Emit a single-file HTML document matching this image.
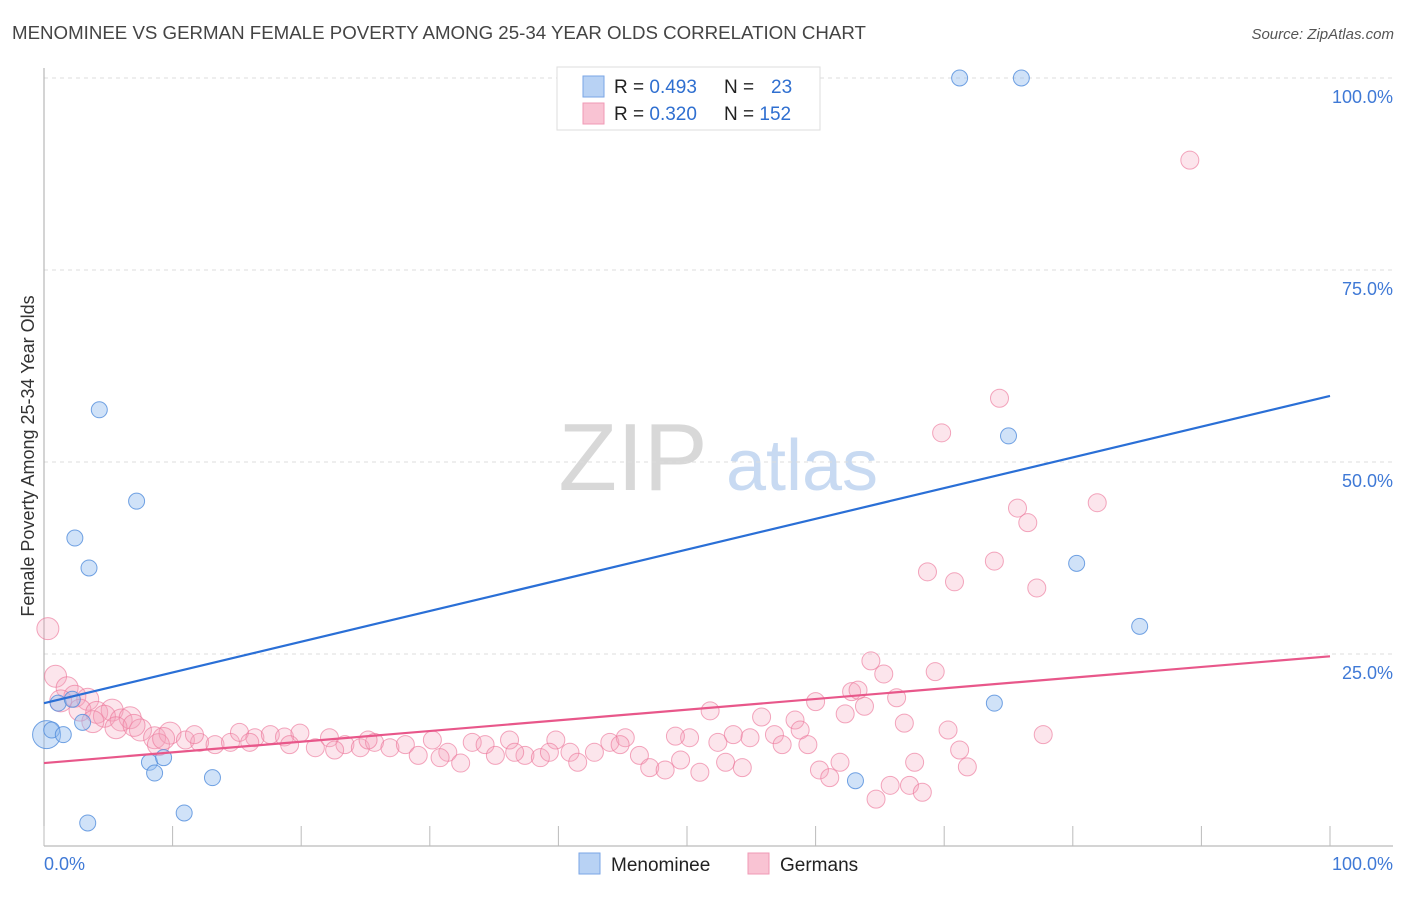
<!DOCTYPE html>
<html><head><meta charset="utf-8"><style>
body{margin:0;background:#fff;font-family:"Liberation Sans",sans-serif}
svg text{font-family:"Liberation Sans",sans-serif}
</style></head><body>
<svg id="chart" width="1406" height="892" viewBox="0 0 1406 892">
<text x="12" y="39" font-size="18.7" fill="#444">MENOMINEE VS GERMAN FEMALE POVERTY AMONG 25-34 YEAR OLDS CORRELATION CHART</text>
<text x="1394" y="39" font-size="15" fill="#555" text-anchor="end" font-style="italic">Source: ZipAtlas.com</text>
<g>
<text x="633" y="490" font-size="96" fill="#d8d8d8" font-family="Liberation Serif" text-anchor="middle">ZIP</text>
<text x="802" y="490" font-size="72" fill="#c8daf2" text-anchor="middle">atlas</text>
</g>
<g id="grid"></g><g id="axes"></g><g id="pts"></g><g id="lines"></g>
<g>
<rect x="557" y="67" width="263" height="63" fill="#fff" stroke="#ddd"/>
<rect x="583" y="76" width="21" height="21" fill="#b8d2f4" stroke="#7aa6e6"/>
<rect x="583" y="103" width="21" height="21" fill="#f9c3d3" stroke="#f09ab6"/>
<text x="614" y="93" font-size="19" fill="#222">R = <tspan fill="#2f6fd0">0.493</tspan></text>
<text x="724" y="93" font-size="19" fill="#222">N = <tspan fill="#2f6fd0" x="771">23</tspan></text>
<text x="614" y="120" font-size="19" fill="#222">R = <tspan fill="#2f6fd0">0.320</tspan></text>
<text x="724" y="120" font-size="19" fill="#222">N = <tspan fill="#2f6fd0">152</tspan></text>
</g>
<g>
<rect x="579" y="853" width="21" height="21" fill="#b8d2f4" stroke="#7aa6e6"/>
<text x="611" y="871" font-size="19" fill="#222">Menominee</text>
<rect x="748" y="853" width="21" height="21" fill="#f9c3d3" stroke="#f09ab6"/>
<text x="780" y="871" font-size="19" fill="#222">Germans</text>
</g>
<text transform="translate(34,456) rotate(-90)" font-size="18" fill="#333" text-anchor="middle">Female Poverty Among 25-34 Year Olds</text>
</svg>
<script>
const yTicks=[25,50,75,100];
const yTickLabels=["25.0%","50.0%","75.0%","100.0%"];
const xTicks=[0,10,20,30,40,50,60,70,80,90,100];
const menX=[0.2,0.6,1.1,1.5,2.2,3.0,2.4,3.5,4.3,7.2,3.4,8.2,8.6,9.3,10.9,13.1,71.2,76.0,75.0,80.3,85.2,73.9,63.1];
const menY=[14.5,15.1,18.6,14.5,19.1,16.1,40.1,36.2,56.8,44.9,3.0,10.9,9.5,11.5,4.3,8.9,100,100,53.4,36.8,28.6,18.6,8.5];
const gerX=[0.3,0.9,1.8,2.4,3.4,2.8,4.1,5.3,4.7,6.0,6.7,7.5,8.6,9.8,11,12.1,13.3,14.5,15.2,16.4,17.6,18.7,19.9,21.1,22.2,23.4,24.6,25.7,26.9,28.1,29.1,30.2,31.4,32.4,33.3,34.3,35.1,36.2,37.4,38.6,39.8,40.9,41.5,42.8,44.0,45.2,46.3,47.1,48.3,49.5,50.2,51.0,51.8,52.4,53.0,54.3,54.9,55.8,56.8,57.4,58.4,58.8,59.4,60.0,60.3,61.1,61.9,62.3,62.8,63.3,63.8,64.3,64.7,65.3,65.8,66.3,66.9,67.3,67.7,68.3,68.7,69.3,69.8,70.3,70.8,71.2,71.8,73.9,74.3,75.7,76.5,77.2,77.7,81.9,89.1,8.9,11.7,16.0,19.1,22.6,25.2,30.8,36.6,39.3,44.8,53.6,49.1,1.3,3.8,5.6,7.0,9.3];
const gerY=[28.3,22.1,20.6,19.5,19.1,17.7,17.4,17.7,16.9,16.4,16.7,15.1,14.1,14.7,13.8,13.5,13.2,13.5,14.8,14.1,14.5,14.2,14.7,12.8,14.1,13.2,12.8,13.5,12.8,13.2,11.8,13.8,12.2,10.8,13.5,13.2,11.8,13.8,11.8,11.5,13.8,12.2,10.9,12.2,13.5,14.1,11.8,10.2,9.9,11.2,14.1,9.6,17.6,13.5,10.9,10.2,14.1,16.8,14.5,13.2,16.4,15.1,13.2,18.8,9.9,8.9,10.9,17.2,20.1,20.3,18.2,24.1,6.1,22.4,7.9,19.3,16.0,7.9,10.9,7.0,35.7,22.7,53.8,15.1,34.4,12.5,10.3,37.1,58.3,44.0,42.1,33.6,14.5,44.7,89.3,13.2,14.5,13.5,13.2,12.5,13.8,11.5,12.2,12.2,13.2,14.5,14.3,18.9,16.2,15.4,15.7,14.0];
const blueLine=[18.6,58.6];
const pinkLine=[10.8,24.7];
const X0=44,X1=1330,Y0=846,Y100=78;
const sx=v=>X0+(X1-X0)*v/100, sy=v=>Y0-(Y0-Y100)*v/100;
const NS="http://www.w3.org/2000/svg";
function mk(p,t,a){const e=document.createElementNS(NS,t);for(const k in a)e.setAttribute(k,a[k]);p.appendChild(e);return e;}
const grid=document.getElementById('grid'),axes=document.getElementById('axes'),pts=document.getElementById('pts'),lines=document.getElementById('lines');
yTicks.forEach((t,i)=>{
 const l=mk(grid,'line',{x1:X0,x2:1393,y1:sy(t),y2:sy(t),stroke:'#ddd','stroke-dasharray':'4,4'});
 
 
 const tx=mk(grid,'text',{x:1393,y:sy(t)+25,'font-size':18,fill:'#3f79d6','text-anchor':'end'});
 tx.textContent=yTickLabels[i];
 
 
});
let a=mk(axes,'line',{x1:X0,x2:X0,y1:68,y2:Y0,stroke:'#aaa'});


a=mk(axes,'line',{x1:X0,x2:1393,y1:Y0,y2:Y0,stroke:'#aaa'});


xTicks.forEach(t=>{
 const l=mk(axes,'line',{x1:sx(t),x2:sx(t),y1:826,y2:Y0,stroke:'#bbb'});
 
 
});
let t=mk(axes,'text',{x:44,y:870,'font-size':18,fill:'#3f79d6'});t.textContent='0.0%';


t=mk(axes,'text',{x:1393,y:870,'font-size':18,fill:'#3f79d6','text-anchor':'end'});t.textContent='100.0%';


gerX.forEach((x,i)=>{
 const r=x<10?11:9;
 const c=mk(pts,'circle',{cx:sx(x),cy:sy(gerY[i]),r:r,fill:'rgba(245,160,185,0.28)',stroke:'rgba(236,120,155,0.65)','stroke-width':1});
 
 
});
menX.forEach((x,i)=>{
 const r=i==0?14:8;
 const c=mk(pts,'circle',{cx:sx(x),cy:sy(menY[i]),r:r,fill:'rgba(150,190,240,0.45)',stroke:'rgba(80,140,220,0.8)','stroke-width':1});
 
 
});
let ln=mk(lines,'line',{x1:sx(0),x2:sx(100),y1:sy(blueLine[0]),y2:sy(blueLine[1]),stroke:'#2a6fd6','stroke-width':2.2});


ln=mk(lines,'line',{x1:sx(0),x2:sx(100),y1:sy(pinkLine[0]),y2:sy(pinkLine[1]),stroke:'#e8578a','stroke-width':2.2});


</script>
</body></html>
